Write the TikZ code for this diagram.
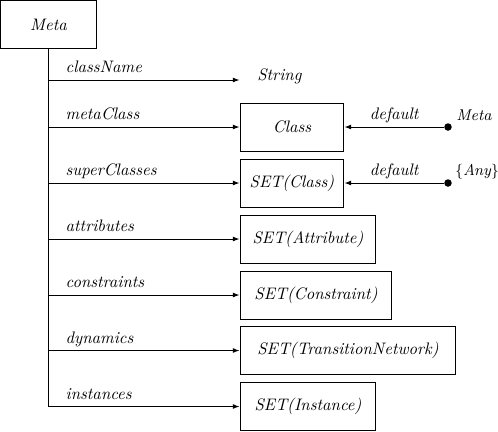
\documentclass[tikz,border=0pt]{standalone}
\usepackage{tikz}
\usetikzlibrary{positioning,arrows.meta}
\tikzset{
  typebox/.style={rectangle,draw=black,line width=0.6pt,minimum height=28.8pt,inner sep=2pt,anchor=west,font=\itshape},
  rel/.style={-{Latex[length=4pt,width=3pt]},line width=0.6pt},
  rellabel/.style={pos=0,anchor=base west,inner sep=0pt,font=\itshape,xshift=10pt,yshift=4.5pt},
  deflabel/.style={midway,anchor=base,inner sep=0pt,font=\itshape,yshift=4.5pt},
  valuelabel/.style={anchor=base west,inner sep=0pt,font=\itshape\fontsize{9.4}{11}\selectfont},
  dot/.style={circle,fill=black,inner sep=0pt,minimum size=4.5pt}
}

\begin{document}
\begin{tikzpicture}[x=0.6pt,y=-0.6pt]
  \useasboundingbox (0,0) rectangle (498,431);
  % the meta class and its slots
  \node[typebox,anchor=center,minimum width=58pt] (meta) at (48.5,24.5) {Meta};
  \node[valuelabel,font=\itshape] (str) at (257,80) {String};
  \node[typebox,minimum width=62.4pt] (cls) at (239.5,127) {Class};
  \node[typebox,minimum width=62.4pt] (setcls) at (239.5,183) {SET(Class)};
  \node[typebox,minimum width=81.6pt] (setattr) at (239.5,239) {SET(Attribute)};
  \node[typebox,minimum width=91.2pt] (setcons) at (239.5,295) {SET(Constraint)};
  \node[typebox,minimum width=129.6pt] (settn) at (239.5,350.5) {SET(TransitionNetwork)};
  \node[typebox,minimum width=81.6pt] (setinst) at (239.5,406.5) {SET(Instance)};
  % defaults
  \node[dot] (dmeta) at (448,127) {};
  \node[dot] (dany) at (448,183) {};
  \node[valuelabel] (vmeta) at (456,120) {Meta};
  \node[valuelabel] (vany) at (455,175) {$\{$\textit{Any}$\}$};
  % spine
  \coordinate (jname) at (48.5,80);
  \coordinate (jmeta) at (48.5,127);
  \coordinate (jsuper) at (48.5,183);
  \coordinate (jattr) at (48.5,239);
  \coordinate (jcons) at (48.5,295);
  \coordinate (jdyn) at (48.5,350.5);
  \coordinate (jinst) at (48.5,406.5);
  \coordinate (strend) at (239.5,80);
  \draw[line width=0.6pt] (meta.south) -- (jinst);
  \draw[rel] (jname) -- node[rellabel] {className} (strend);
  \draw[rel] (jmeta) -- node[rellabel] {metaClass} (cls.west);
  \draw[rel] (jsuper) -- node[rellabel] {superClasses} (setcls.west);
  \draw[rel] (jattr) -- node[rellabel] {attributes} (setattr.west);
  \draw[rel] (jcons) -- node[rellabel] {constraints} (setcons.west);
  \draw[rel] (jdyn) -- node[rellabel] {dynamics} (settn.west);
  \draw[rel] (jinst) -- node[rellabel] {instances} (setinst.west);
  \draw[rel] (dmeta) -- node[deflabel] {default} (cls.east);
  \draw[rel] (dany) -- node[deflabel] {default} (setcls.east);
\end{tikzpicture}
\end{document}
